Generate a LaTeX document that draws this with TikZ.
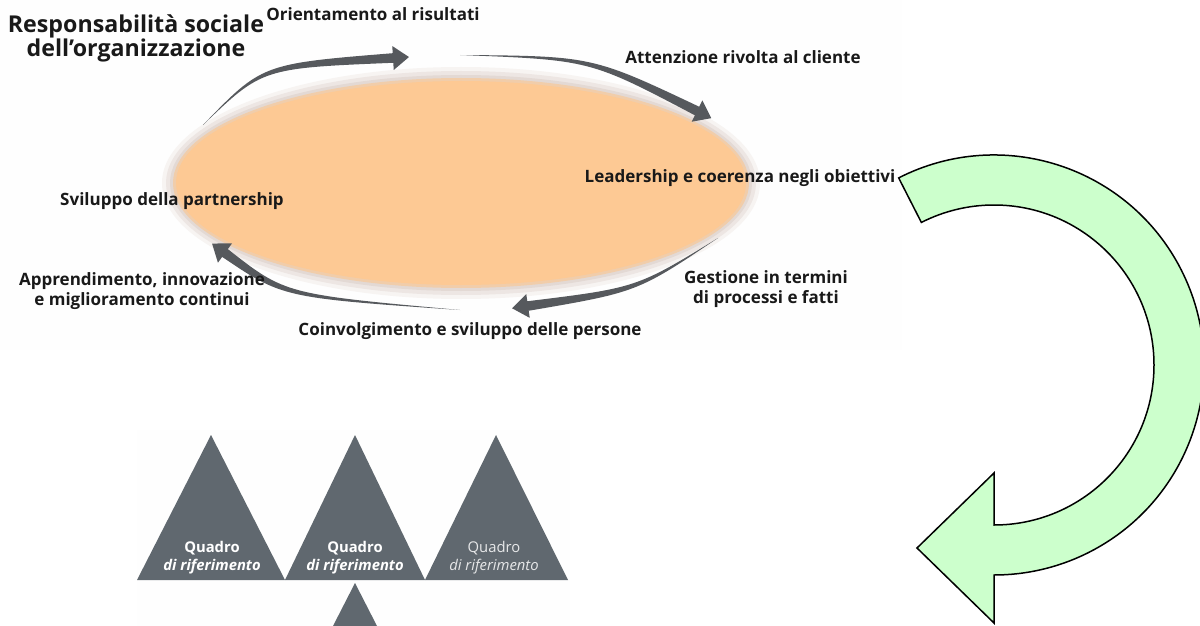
\documentclass[tikz,border=0pt]{standalone}
\usepackage{fontspec}
\setmainfont{Open Sans}
\usetikzlibrary{calc}

\definecolor{peach}{RGB}{253,201,148}
\definecolor{rim}{RGB}{222,210,204}
\definecolor{arrowgrey}{RGB}{86,89,93}
\definecolor{slate}{RGB}{96,104,111}
\definecolor{mint}{RGB}{204,255,204}
\definecolor{ink}{RGB}{25,25,25}
\definecolor{paper}{RGB}{254,254,254}

% tapered curved arrow: tail point, bend point, head base
\newcommand\sweeparrow[3]{%
  \fill[arrowgrey] let \p1=(#1), \p2=(#2), \p3=(#3),
      \n1={atan2(\y3-\y2,\x3-\x2)} in
    (\p1) .. controls ($(\p2)+({\n1+90}:1.1pt)$) .. ($(\p3)+({\n1+90}:2.4pt)$)
    -- ($(\p3)+({\n1+90}:6pt)$) -- ($(\p3)+(\n1:8pt)$)
    -- ($(\p3)+({\n1-90}:6pt)$) -- ($(\p3)+({\n1-90}:2.4pt)$)
    .. controls ($(\p2)+({\n1-90}:1.1pt)$) .. (\p1) -- cycle;}

\begin{document}
\begin{tikzpicture}[x=0.5pt,y=-0.5pt,
  lab/.style={font=\bfseries\fontsize{8.5}{10}\selectfont, text=ink,
    align=center, inner sep=0pt},
  title/.style={font=\bfseries\fontsize{11.6}{12}\selectfont, text=ink,
    align=center, inner sep=0pt},
  peak/.style={fill=slate},
  quadro/.style={font=\fontsize{7.4}{9}\selectfont, text=white,
    align=center, inner sep=0pt},
  turn/.style={draw=black, line width=0.75pt, fill=mint, line join=miter}]

\useasboundingbox (0,0) rectangle (1200,626);

% panels
\fill[paper] (0,0) rectangle (902,350);
\fill[paper] (137,430) rectangle (570,626);

% ellipse with soft rim
\coordinate (ec) at (461,183);
\fill[rim!25] (ec) ellipse [x radius=299, y radius=116];
\fill[rim!55] (ec) ellipse [x radius=295, y radius=112];
\fill[rim!85] (ec) ellipse [x radius=291, y radius=108];
\fill[peach!60!rim] (ec) ellipse [x radius=288, y radius=105];
\fill[peach] (ec) ellipse [x radius=285, y radius=102];

% cycle arrows around the ellipse
\coordinate (a1t) at (203,125); \coordinate (a1c) at (262,66);   \coordinate (a1h) at (393,58);
\coordinate (a2t) at (460,55);  \coordinate (a2c) at (591,58);   \coordinate (a2h) at (697,111);
\coordinate (a3t) at (718,238); \coordinate (a3c) at (637,290);  \coordinate (a3h) at (528,306);
\coordinate (a4t) at (460,310); \coordinate (a4c) at (284,296);  \coordinate (a4h) at (225,253);
\sweeparrow{a1t}{a1c}{a1h}
\sweeparrow{a2t}{a2c}{a2h}
\sweeparrow{a3t}{a3c}{a3h}
\sweeparrow{a4t}{a4c}{a4h}

% labels
\node[title] (resp) at (136,38) {Responsabilità sociale\\dell’organizzazione};
\node[lab] (orient) at (373,14) {Orientamento al risultati};
\node[lab] (atten) at (743,57) {Attenzione rivolta al cliente};
\node[lab] (lead) at (740,178) {Leadership e coerenza negli obiettivi};
\node[lab] (svil) at (172,201) {Sviluppo della partnership};
\node[lab] (appr) at (142,291) {Apprendimento, innovazione\\e miglioramento continui};
\node[lab] (gest) at (766,289) {Gestione in termini\\di processi e fatti};
\node[lab] (coin) at (470,331) {Coinvolgimento e sviluppo delle persone};

% big turning arrow
\coordinate (gc) at (994,365);
\draw[turn] ([shift={(-117:210)}]gc) arc[start angle=-117, end angle=90, radius=210]
  -- (994,623) -- (917,548) -- (994,473) -- (994,525)
  arc[start angle=90, end angle=-117, radius=160] -- cycle;

% triangles
\fill[peak] (137,580) -- (211,435) -- (285,580) -- cycle;
\fill[peak] (285,580) -- (355,435) -- (425,580) -- cycle;
\fill[peak] (425,580) -- (496,435) -- (568,580) -- cycle;
\fill[peak] (333,626) -- (355,583) -- (377,626) -- cycle;

\node[quadro] (q1) at (212,558) {\bfseries Quadro\\\bfseries\itshape di riferimento};
\node[quadro] (q2) at (355,558) {\bfseries Quadro\\\bfseries\itshape di riferimento};
\node[quadro, text=white!85!slate] (q3) at (494,558) {Quadro\\\itshape di riferimento};
\end{tikzpicture}
\end{document}
